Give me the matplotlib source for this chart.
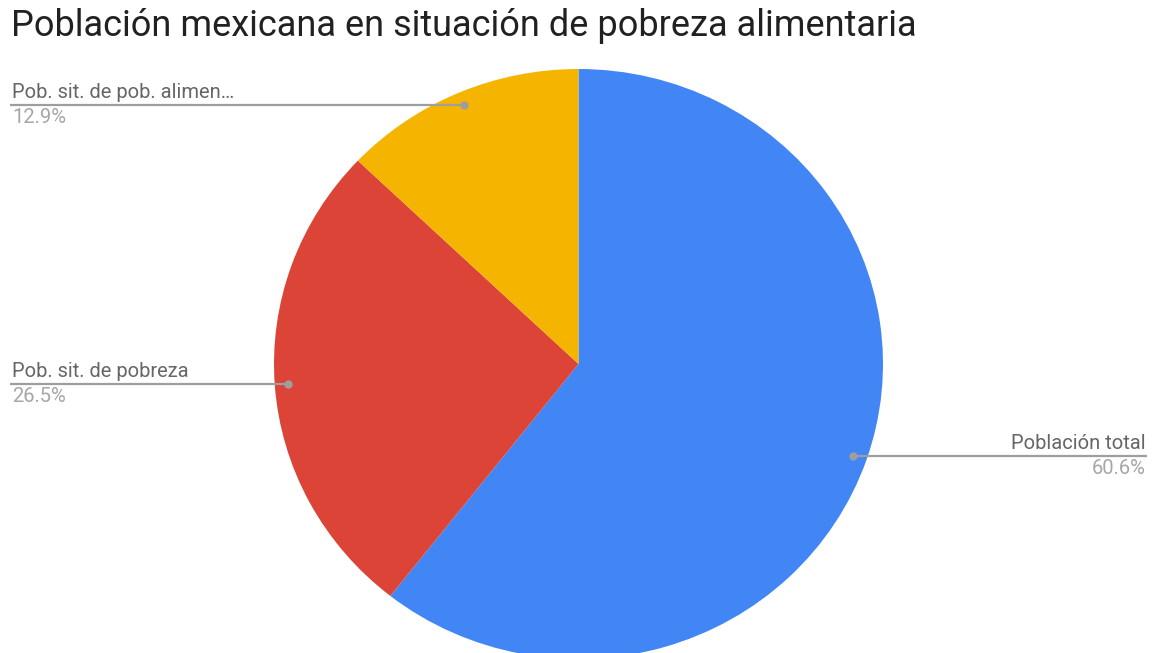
import numpy as np
import matplotlib
matplotlib.use("Agg")
import matplotlib.pyplot as plt

# Data
title = "Población mexicana en situación de pobreza alimentaria"
labels = ["Población total", "Pob. sit. de pobreza", "Pob. sit. de pob. alimen…"]
values = [60.6, 26.5, 12.9]
colors = ["#4285F4", "#DB4437", "#F4B400"]

W, H = 1160, 653
plt.rcParams['font.family'] = ['Roboto', 'DejaVu Sans']

fig = plt.figure(figsize=(W / 100, H / 100), dpi=100)

# pie box in pixels (slightly wider than tall, as in the reference)
pl, pt, pw, ph = 274, 69, 609, 590
ax = fig.add_axes([pl / W, 1 - (pt + ph) / H, pw / W, ph / H])
wedges, _ = ax.pie(values, colors=colors, startangle=90, counterclock=False,
                   wedgeprops=dict(linewidth=0))
ax.set_aspect('auto')
ax.set_xlim(-1, 1)
ax.set_ylim(-1, 1)
for w in wedges:
    w.set_clip_on(False)

# overlay in pixel coords
ov = fig.add_axes([0, 0, 1, 1])
ov.set_xlim(0, W)
ov.set_ylim(H, 0)
ov.axis('off')

ov.text(11, 26, title, fontsize=26, color="#212121", va='center', ha='left')

for w, lab, v in zip(wedges, labels, values):
    mid = np.deg2rad((w.theta1 + w.theta2) / 2)
    r = 0.955
    px = pl + (r * np.cos(mid) + 1) / 2 * pw
    py = pt + (1 - r * np.sin(mid)) / 2 * ph
    if np.cos(mid) >= 0:
        xe, ha = 1147, 'right'
    else:
        xe, ha = 10, 'left'
    ov.plot([px, xe], [py, py], color="#9e9e9e", lw=1.6, solid_capstyle='butt')
    ov.plot(px, py, 'o', color="#9e9e9e", ms=5)
    tx = xe + (2 if ha == 'left' else -1)
    ov.text(tx, py - 3, lab, fontsize=14.5, color="#666666", ha=ha, va='bottom')
    ov.text(tx, py + 3, f"{v}%", fontsize=14.5, color="#a6a6a6", ha=ha, va='top')

fig.savefig("out.png", dpi=100, facecolor="white")
